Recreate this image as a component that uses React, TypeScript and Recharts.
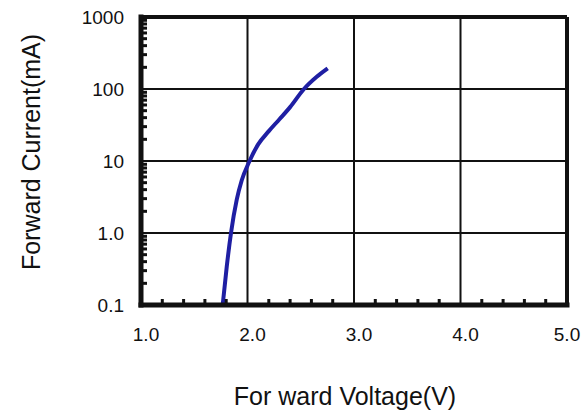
import React from "react";
import { LineChart, Line, XAxis, YAxis, ReferenceLine } from "recharts";

// forward voltage (V) vs forward current (mA)
const voltage = [1.767, 1.805, 1.845, 1.899, 1.946, 2.014, 2.1, 2.2, 2.3, 2.4, 2.53, 2.65, 2.753];
const current = [0.1, 0.34, 1.0, 2.9, 5.4, 9.6, 17, 26, 38, 56, 100, 148, 194];

const xMajorTicks = [1, 2, 3, 4, 5];
const xMinorTicks = [1.2, 1.4, 1.6, 1.8, 2.2, 2.4, 2.6, 2.8, 3.2, 3.4, 3.6, 3.8, 4.2, 4.4, 4.6, 4.8];
const yMajorTicks = [0.1, 1, 10, 100, 1000];
const yMajorLabels = ["0.1", "1.0", "10", "100", "1000"];
const yDecades = [0.1, 1, 10, 100];
const yMinorSteps = [2, 3, 4, 5, 6, 7, 8, 9];

const xGrid = [2, 3, 4];
const yGrid = [1, 10, 100];

const FONT = '"Liberation Sans", Arial, sans-serif';
const INK = "#111";

const data = voltage.map((v, i) => ({ v, i: current[i] }));
const yMinorTicks = yDecades.flatMap((d) => yMinorSteps.map((s) => +(d * s).toPrecision(2)));
const xTicks = [...xMajorTicks, ...xMinorTicks].sort((a, b) => a - b);
const yTicks = [...yMajorTicks, ...yMinorTicks].sort((a, b) => a - b);

function XTick(props: any) {
  const { x, y, payload } = props;
  const v = payload.value;
  if (xMajorTicks.includes(v)) {
    const last = v === xMajorTicks[xMajorTicks.length - 1];
    return (
      <text x={x + (last ? 0 : 5)} y={y + 23} dy="0.71em" textAnchor="middle" fill={INK} fontSize={19} fontFamily={FONT}>
        {v.toFixed(1)}
      </text>
    );
  }
  return <line x1={x} x2={x} y1={y} y2={y - 6} stroke={INK} strokeWidth={3} />;
}

function YTick(props: any) {
  const { x, y, payload } = props;
  const v = payload.value;
  const idx = yMajorTicks.indexOf(v);
  if (idx >= 0) {
    return (
      <text x={x - 17} y={y} dy="0.355em" textAnchor="end" fill={INK} fontSize={19} fontFamily={FONT}>
        {yMajorLabels[idx]}
      </text>
    );
  }
  return <line x1={x} x2={x + 6} y1={y} y2={y} stroke={INK} strokeWidth={3} />;
}

function XTitle(props: any) {
  const vb = props.viewBox;
  return (
    <text x={vb.x + vb.width / 2 - 9} y={vb.y + vb.height - 9} textAnchor="middle" fill={INK} fontSize={25} fontFamily={FONT}>
      For ward Voltage(V)
    </text>
  );
}

function YTitle(props: any) {
  const vb = props.viewBox;
  const cx = vb.x + 40;
  const cy = vb.y + vb.height / 2 - 9;
  return (
    <text x={0} y={0} transform={`translate(${cx}, ${cy}) rotate(-90)`} textAnchor="middle" fill={INK} fontSize={25} fontFamily={FONT}>
      Forward Current(mA)
    </text>
  );
}

export default function App() {
  return (
    <div style={{ position: "absolute", left: 0, top: 0, background: "#fff" }}>
      <LineChart width={581} height={414} data={data} margin={{ top: 17, right: 14, bottom: 0, left: 0 }}>
        <XAxis
          dataKey="v"
          type="number"
          domain={[1, 5]}
          ticks={xTicks}
          interval={0}
          tick={XTick}
          tickLine={false}
          tickSize={0}
          tickMargin={0}
          height={109}
          axisLine={{ stroke: INK, strokeWidth: 5, strokeLinecap: "square" }}
          label={{ content: XTitle }}
        />
        <YAxis
          dataKey="i"
          type="number"
          scale="log"
          domain={[0.1, 1000]}
          allowDataOverflow
          ticks={yTicks}
          interval={0}
          tick={YTick}
          tickLine={false}
          tickSize={0}
          tickMargin={0}
          width={141}
          axisLine={{ stroke: INK, strokeWidth: 5, strokeLinecap: "square" }}
          label={{ content: YTitle }}
        />
        {xGrid.map((g) => (
          <ReferenceLine key={`x${g}`} x={g} stroke={INK} strokeWidth={2} />
        ))}
        {yGrid.map((g) => (
          <ReferenceLine key={`y${g}`} y={g} stroke={INK} strokeWidth={2} />
        ))}
        <ReferenceLine x={5} stroke={INK} strokeWidth={4} />
        <ReferenceLine y={1000} stroke={INK} strokeWidth={4} />
        <Line
          type="monotone"
          dataKey="i"
          stroke="#1f1fa3"
          strokeWidth={4}
          dot={false}
          isAnimationActive={false}
        />
      </LineChart>
    </div>
  );
}
